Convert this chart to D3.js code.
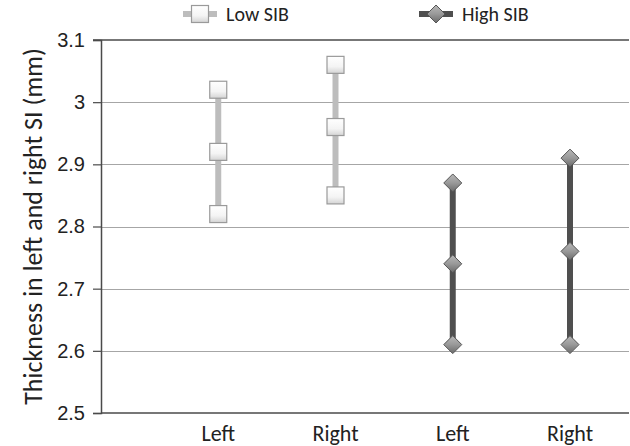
<!DOCTYPE html>
<html>
<head>
<meta charset="utf-8">
<script src="https://cdn.jsdelivr.net/npm/d3@7"></script>
<style>
  body { margin: 0; background: #fff; }
  svg { font-family: Carlito, Lato, "Open Sans", sans-serif; }
</style>
</head>
<body>
<div id="chart"></div>
<script>
// categories (first slot left empty, as in the original spreadsheet chart)
var categories = ["", "Left", "Right", "Left", "Right"];
var lowSIB  = [[3.02, 2.92, 2.82], [3.06, 2.96, 2.85], null, null];
var highSIB = [null, null, [2.87, 2.74, 2.61], [2.91, 2.76, 2.61]];
var yTicks = [2.5, 2.6, 2.7, 2.8, 2.9, 3.0, 3.1];
var yTickLabels = ["2.5", "2.6", "2.7", "2.8", "2.9", "3", "3.1"];

var margin = { top: 40, right: 2, bottom: 33, left: 101 };
var width = 630 - margin.left - margin.right,
    height = 446 - margin.top - margin.bottom;

var svg = d3.select("#chart").append("svg")
    .attr("width", 630)
    .attr("height", 446);

var defs = svg.append("defs");
var gSq = defs.append("linearGradient").attr("id", "sqGrad")
    .attr("x1", 0).attr("y1", 0).attr("x2", 0).attr("y2", 1);
gSq.append("stop").attr("offset", "0%").attr("stop-color", "#ffffff");
gSq.append("stop").attr("offset", "60%").attr("stop-color", "#f4f4f4");
gSq.append("stop").attr("offset", "100%").attr("stop-color", "#d4d4d4");
var gDia = defs.append("linearGradient").attr("id", "diaGrad")
    .attr("x1", 0).attr("y1", 0).attr("x2", 0).attr("y2", 1);
gDia.append("stop").attr("offset", "0%").attr("stop-color", "#b8b8b8");
gDia.append("stop").attr("offset", "50%").attr("stop-color", "#999999");
gDia.append("stop").attr("offset", "100%").attr("stop-color", "#6a6a6a");

var g = svg.append("g")
    .attr("transform", "translate(" + margin.left + "," + margin.top + ")");

// scales
var x = d3.scalePoint()
    .domain(d3.range(categories.length))
    .range([0, 469]);

var y = d3.scaleLinear()
    .domain([2.5, 3.1])
    .range([height, 0]);

// gridlines
g.selectAll(".grid")
    .data(yTicks.slice(1, -1))
    .enter().append("line")
    .attr("class", "grid")
    .attr("x1", 0).attr("x2", width + 1)
    .attr("y1", function(d){ return Math.round(y(d)) + 0.5; })
    .attr("y2", function(d){ return Math.round(y(d)) + 0.5; })
    .attr("stroke", "#a6a6a6")
    .attr("stroke-width", 1.2);

// top border line
g.append("line")
    .attr("x1", -8).attr("x2", width + 1)
    .attr("y1", y(3.1)).attr("y2", y(3.1))
    .attr("stroke", "#4a4a4a").attr("stroke-width", 1.5);

// y axis
var yAxis = d3.axisLeft(y)
    .tickValues(yTicks)
    .tickFormat(function(d, i){ return yTickLabels[i]; })
    .tickSize(8);

var yG = g.append("g").attr("class", "y-axis").call(yAxis);
yG.select(".domain").attr("stroke", "#4a4a4a").attr("stroke-width", 1.5);
yG.selectAll(".tick line").attr("stroke", "#4a4a4a").attr("stroke-width", 1.2);
yG.selectAll(".tick text")
    .attr("x", -16)
    .attr("fill", "#222")
    .style("font-size", "20px");

// x axis line
g.append("line")
    .attr("x1", 0).attr("x2", width + 1)
    .attr("y1", height).attr("y2", height)
    .attr("stroke", "#4a4a4a").attr("stroke-width", 1.5);

// x labels
g.selectAll(".xlab")
    .data(categories.slice(1))
    .enter().append("text")
    .attr("class", "xlab")
    .attr("x", function(d, i){ return x(i + 1); })
    .attr("y", height + 28)
    .attr("text-anchor", "middle")
    .attr("fill", "#222")
    .style("font-size", "22px")
    .text(function(d){ return d; });

// y axis title
svg.append("text")
    .attr("transform", "translate(42," + (margin.top + height / 2) + ") rotate(-90)")
    .attr("text-anchor", "middle")
    .attr("fill", "#222")
    .style("font-size", "26px")
    .text("Thickness in left and right SI (mm)");

function drawSeries(data, lineColor, shape) {
    data.forEach(function(vals, i){
        if (!vals) return;
        var cx = x(i + 1);
        g.append("line")
            .attr("x1", cx).attr("x2", cx)
            .attr("y1", y(d3.max(vals))).attr("y2", y(d3.min(vals)))
            .attr("stroke", lineColor)
            .attr("stroke-width", 6);
        vals.forEach(function(v){
            drawMarker(g, cx, y(v), shape);
        });
    });
}

function drawMarker(sel, cx, cy, shape) {
    if (shape === "square") {
        sel.append("rect")
            .attr("x", cx - 8.5).attr("y", cy - 8.5)
            .attr("width", 17).attr("height", 17)
            .attr("fill", "url(#sqGrad)")
            .attr("stroke", "#9a9a9a")
            .attr("stroke-width", 1.2);
    } else {
        sel.append("path")
            .attr("d", "M" + cx + "," + (cy - 9) + "L" + (cx + 9) + "," + cy +
                "L" + cx + "," + (cy + 9) + "L" + (cx - 9) + "," + cy + "Z")
            .attr("fill", "url(#diaGrad)")
            .attr("stroke", "#555")
            .attr("stroke-width", 1);
    }
}

drawSeries(lowSIB, "#bdbdbd", "square");
drawSeries(highSIB, "#4f4f4f", "diamond");

// legend
var legend = [
    { name: "Low SIB", color: "#bdbdbd", shape: "square", x: 183 },
    { name: "High SIB", color: "#4f4f4f", shape: "diamond", x: 419 }
];
legend.forEach(function(d){
    svg.append("line")
        .attr("x1", d.x).attr("x2", d.x + 34)
        .attr("y1", 14).attr("y2", 14)
        .attr("stroke", d.color).attr("stroke-width", 6);
    drawMarker(svg, d.x + 17, 14, d.shape);
    svg.append("text")
        .attr("x", d.x + 43).attr("y", 21)
        .attr("fill", "#222")
        .style("font-size", "20px")
        .text(d.name);
});
</script>
</body>
</html>
